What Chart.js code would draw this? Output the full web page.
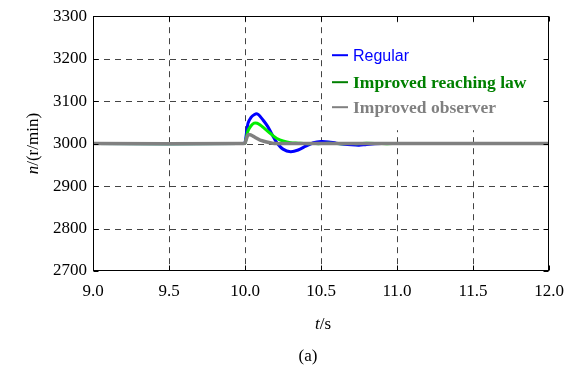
<!DOCTYPE html>
<html>
<head>
<meta charset="utf-8">
<script src="https://cdn.jsdelivr.net/npm/chart.js@4"></script>
<style>
    html, body { margin: 0; padding: 0; background: #fff; }
    #wrap { width: 574px; height: 379px; }
</style>
</head>
<body>
<div id="wrap"><canvas id="myChart" width="574" height="379"></canvas></div>
<script>

// DATA PARTS

var times       = [9.0, 9.99, 10.0, 10.02, 10.04, 10.06, 10.08, 10.10, 10.12, 10.15, 10.18, 10.21, 10.25, 10.30, 10.35, 10.40, 10.45, 10.50, 10.55, 10.60, 10.70, 10.75, 10.80, 10.90, 11.0, 12.0];
var regular     = [3000, 3000, 3002, 3048, 3062, 3068, 3070, 3064, 3055, 3040, 3020, 3002, 2987, 2981, 2985, 2994, 3002, 3005, 3004, 3001, 2997, 2996, 2998, 3000, 3000, 3000];
var reachingLaw = [3000, 3000, 3001, 3030, 3042, 3048, 3048, 3044, 3038, 3029, 3020, 3012, 3006, 3002, 3001, 3000, 3000, 3000, 3001, 3000, 3000, 3000, 3001, 3000, 3000, 3000];
var observer    = [3000, 3000, 3001, 3021, 3020, 3016, 3012, 3008, 3006, 3003, 3001, 3000, 3000, 3000, 3000, 3000, 3000, 3000, 3000, 3000, 3000, 3000, 3000, 3000, 3000, 3000];

var seriesNames = ['Regular', 'Improved reaching law', 'Improved observer'];
var xTicks = [9.0, 9.5, 10.0, 10.5, 11.0, 11.5, 12.0];
var yTicks = [2700, 2800, 2900, 3000, 3100, 3200, 3300];

// HELPERS

function toPoints(values){
    return values.map((v, i) => ({ x: times[i], y: v }));
}

function seg(ctx, x1, y1, x2, y2){
    ctx.beginPath();
    ctx.moveTo(x1, y1);
    ctx.lineTo(x2, y2);
    ctx.stroke();
}

var SERIF = 'Liberation Serif';

var legendColors = ['#0000ff', '#008000', '#808080'];
var legendFonts = [
    '16px Liberation Sans',
    'bold 17.5px ' + SERIF,
    'bold 17.5px ' + SERIF
];

Chart.defaults.font.family = SERIF;
Chart.defaults.font.size = 17;
Chart.defaults.color = '#000';

// PLUGIN PART (matlab style box, dashed grid, legend, titles)

var matlabFrame = {
    id: 'matlabFrame',
    beforeDatasetsDraw(chart){
        var ctx = chart.ctx;
        var a = chart.chartArea;
        var x = chart.scales.x, y = chart.scales.y;
        ctx.save();
        ctx.strokeStyle = '#444';
        ctx.lineWidth = 1;
        ctx.setLineDash([6, 5]);
        xTicks.slice(1, -1).forEach(v => {
            var px = Math.round(x.getPixelForValue(v)) + 0.5;
            seg(ctx, px, a.top, px, a.bottom);
        });
        yTicks.slice(1, -1).forEach(v => {
            var py = Math.round(y.getPixelForValue(v)) + 0.5;
            seg(ctx, a.left, py, a.right, py);
        });
        ctx.setLineDash([]);
        // legend background covers the grid
        ctx.fillStyle = '#fff';
        ctx.fillRect(a.right - 225, a.top + 7, 221, 107);
        ctx.restore();
    },
    afterDatasetsDraw(chart){
        var ctx = chart.ctx;
        var a = chart.chartArea;
        var x = chart.scales.x, y = chart.scales.y;
        ctx.save();
        ctx.strokeStyle = '#000';
        ctx.lineWidth = 1;
        var l = Math.round(a.left) + 0.5, r = Math.round(a.right) - 0.5;
        var t = Math.round(a.top) + 0.5, b = Math.round(a.bottom) - 0.5;
        ctx.strokeRect(l, t, r - l, b - t);
        xTicks.forEach(v => {
            var px = Math.round(x.getPixelForValue(v)) + 0.5;
            seg(ctx, px, b, px, b - 5);
            seg(ctx, px, t, px, t + 5);
        });
        yTicks.forEach(v => {
            var py = Math.round(y.getPixelForValue(v)) + 0.5;
            seg(ctx, l, py, l + 5, py);
            seg(ctx, r, py, r - 5, py);
        });
        ctx.restore();
    },
    afterDraw(chart){
        var ctx = chart.ctx;
        var a = chart.chartArea;
        ctx.save();

        // legend
        var lx = a.right - 217;
        var rows = [a.top + 39, a.top + 66, a.top + 91];
        chart.data.datasets.forEach((ds, i) => {
            ctx.strokeStyle = legendColors[i];
            ctx.lineWidth = 2;
            seg(ctx, lx, rows[i], lx + 16, rows[i]);
            ctx.fillStyle = legendColors[i];
            ctx.font = legendFonts[i];
            ctx.textAlign = 'left';
            ctx.textBaseline = 'middle';
            ctx.fillText(ds.label, lx + 21, rows[i] + 1);
        });

        // axis titles
        ctx.fillStyle = '#000';
        ctx.textBaseline = 'middle';
        var it = 'italic 17px ' + SERIF;
        var rm = '17px ' + SERIF;

        ctx.font = it; var w1 = ctx.measureText('t').width;
        ctx.font = rm; var w2 = ctx.measureText('/s').width;
        var cx = (a.left + a.right) / 2 + 2;
        ctx.textAlign = 'left';
        ctx.font = it; ctx.fillText('t', cx - (w1 + w2) / 2, 325);
        ctx.font = rm; ctx.fillText('/s', cx - (w1 + w2) / 2 + w1, 325);

        ctx.font = rm; ctx.textAlign = 'center';
        ctx.fillText('(a)', 308, 357);

        ctx.translate(34, (a.top + a.bottom) / 2);
        ctx.rotate(-Math.PI / 2);
        ctx.font = it; var n1 = ctx.measureText('n').width;
        ctx.font = rm; var n2 = ctx.measureText('/(r/min)').width;
        ctx.textAlign = 'left';
        ctx.font = it; ctx.fillText('n', -(n1 + n2) / 2, 0);
        ctx.font = rm; ctx.fillText('/(r/min)', -(n1 + n2) / 2 + n1, 0);

        ctx.restore();
    }
};

// CHART PART

var ctx = document.getElementById('myChart').getContext('2d');
var myChart = new Chart(ctx, {
    type: 'line',
    data: {
        datasets: [{
            label: seriesNames[0],
            data: toPoints(regular),
            borderColor: '#0000ff',
            borderWidth: 3,
            order: 3
        }, {
            label: seriesNames[1],
            data: toPoints(reachingLaw),
            borderColor: '#00ee00',
            borderWidth: 3,
            order: 2
        }, {
            label: seriesNames[2],
            data: toPoints(observer),
            borderColor: '#808080',
            borderWidth: 3.5,
            order: 1
        }]
    },
    options: {
        responsive: false,
        animation: false,
        devicePixelRatio: 1,
        layout: { padding: { top: 16, right: 25, left: 0, bottom: 0 } },
        elements: {
            point: { radius: 0 },
            line: { tension: 0.3, fill: false }
        },
        plugins: {
            legend: { display: false },
            tooltip: { enabled: false }
        },
        scales: {
            x: {
                type: 'linear',
                min: 9,
                max: 12,
                afterBuildTicks: scale => { scale.ticks = xTicks.map(v => ({ value: v })); },
                afterFit: scale => { scale.height = 108; },
                grid: { display: false, drawTicks: false },
                border: { display: false },
                ticks: {
                    font: { family: SERIF, size: 17 },
                    color: '#000',
                    padding: 10,
                    maxRotation: 0,
                    callback: v => Number(v).toFixed(1)
                }
            },
            y: {
                type: 'linear',
                min: 2700,
                max: 3300,
                afterBuildTicks: scale => { scale.ticks = yTicks.map(v => ({ value: v })); },
                afterFit: scale => { scale.width = 93; },
                grid: { display: false, drawTicks: false },
                border: { display: false },
                ticks: {
                    font: { family: SERIF, size: 17 },
                    color: '#000',
                    padding: 6,
                    callback: v => String(v)
                }
            }
        }
    },
    plugins: [matlabFrame]
});

</script>
</body>
</html>
